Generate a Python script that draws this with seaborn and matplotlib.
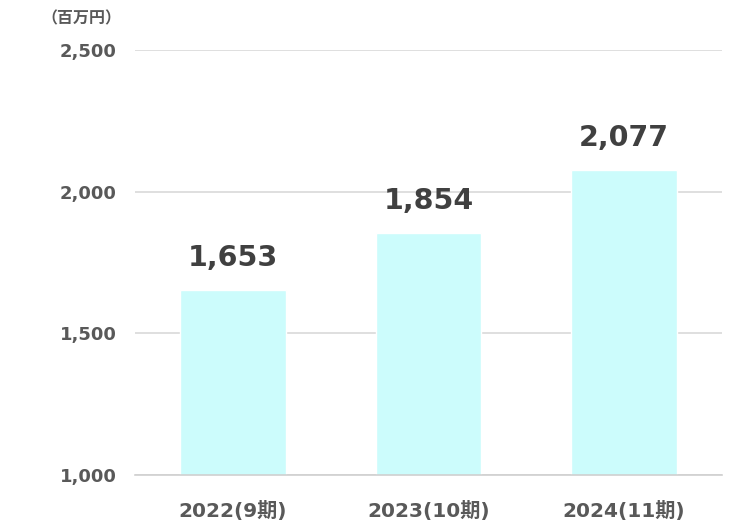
import matplotlib
matplotlib.use("Agg")
import matplotlib.pyplot as plt
import seaborn as sns
import pandas as pd

categories = ["2022(9期)", "2023(10期)", "2024(11期)"]
values = [1653, 1854, 2077]
y_ticks = [1000, 1500, 2000, 2500]
y_tick_labels = ["1,000", "1,500", "2,000", "2,500"]
unit_label = "（百万円）"

sns.set_theme(style="white")
plt.rcParams['font.family'] = ['DejaVu Sans', 'Noto Sans CJK JP']

df = pd.DataFrame({"cat": categories, "val": values})

fig = plt.figure(figsize=(7.47, 5.31), dpi=100)
ax = fig.add_axes([0.1807, 0.1055, 0.7858, 0.8003])

sns.barplot(data=df, x="cat", y="val", color="#CCFCFC", saturation=1,
            width=0.54, ax=ax, zorder=2)

ax.set_ylim(1000, 2500)
ax.set_xlim(-0.5, 2.5)
ax.set_yticks(y_ticks)
ax.set_yticklabels(y_tick_labels, fontsize=13, fontweight="bold", color="#595959")
ax.set_xticks(range(len(categories)))
ax.set_xticklabels(categories, fontsize=14.5, fontweight="bold", color="#595959")
ax.tick_params(axis="y", length=0, pad=13)
ax.tick_params(axis="x", length=0, pad=19)
ax.set_xlabel("")
ax.set_ylabel("")
for s in ["top", "right", "left"]:
    ax.spines[s].set_visible(False)
ax.spines["bottom"].set_color("#d0d0d0")
ax.spines["bottom"].set_linewidth(1.2)
ax.yaxis.grid(True, color="#d9d9d9", linewidth=1.2, zorder=0)
ax.set_axisbelow(True)

for i, v in enumerate(values):
    ax.annotate(f"{v:,}", (i, v), xytext=(0, 13), textcoords="offset points",
                ha="center", va="bottom", fontsize=20.5, fontweight="bold",
                color="#404040")

fig.text(0.162, 0.965, unit_label, ha="right", va="center", fontsize=11.5,
         fontweight="bold", color="#595959",
         family=['Noto Sans CJK JP', 'DejaVu Sans'])

fig.savefig("out.png", dpi=100)
